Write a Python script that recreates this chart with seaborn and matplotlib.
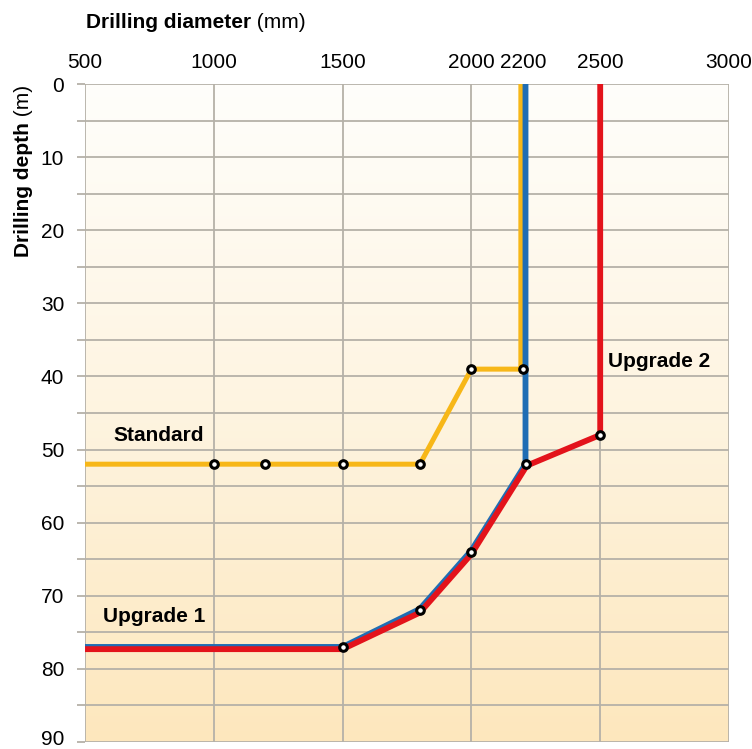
import matplotlib
matplotlib.use("Agg")
import matplotlib.pyplot as plt
import matplotlib.transforms as mtransforms
import seaborn as sns
import pandas as pd
import numpy as np
from matplotlib.colors import LinearSegmentedColormap

# Datos (diametro en mm, profundidad en m)
standard_x = [500, 1000, 1200, 1500, 1800, 2000, 2192, 2192]
standard_y = [52, 52, 52, 52, 52, 39, 39, 0]
upgrade1_x = [500, 1500, 1800, 2000, 2210, 2210]
upgrade1_y = [77, 77, 71.8, 63.8, 52, 0]
upgrade2_x = [500, 1500, 1800, 2000, 2215, 2500, 2500]
upgrade2_y = [77.3, 77.3, 72.3, 64.3, 52.2, 48, 0]

# puntos marcados
marker_x = [1000, 1200, 1500, 1800, 2000, 2200, 1500, 1800, 2000, 2212, 2500]
marker_y = [52, 52, 52, 52, 39, 39, 77, 72, 64, 52, 48]

x_ticks = [500, 1000, 1500, 2000, 2500, 3000]
x_extra_tick = [2200]
y_ticks = [0, 10, 20, 30, 40, 50, 60, 70, 80, 90]

sns.set_style("white")
plt.rcParams['font.family'] = ['Liberation Sans', 'DejaVu Sans']
plt.rcParams['text.color'] = 'black'

fig = plt.figure(figsize=(7.52, 7.49), dpi=100)
ax = fig.add_axes([85 / 752, 1 - 742 / 749, (729 - 85) / 752, (742 - 84) / 749])

# fondo degradado
cmap = LinearSegmentedColormap.from_list('crema', ['#fffefb', '#fef4e0', '#fde7bd'])
grad = np.linspace(0, 1, 256).reshape(-1, 1)
ax.imshow(grad, extent=(500, 3000, 90, 0), origin='upper', aspect='auto', cmap=cmap, zorder=0)

df_std = pd.DataFrame({'x': standard_x, 'y': standard_y})
df_up1 = pd.DataFrame({'x': upgrade1_x, 'y': upgrade1_y})
df_up2 = pd.DataFrame({'x': upgrade2_x, 'y': upgrade2_y})
df_mk = pd.DataFrame({'x': marker_x, 'y': marker_y})

sns.lineplot(data=df_std, x='x', y='y', sort=False, estimator=None, color='#f7b718', linewidth=3.6, ax=ax, zorder=3)
sns.lineplot(data=df_up1, x='x', y='y', sort=False, estimator=None, color='#1f6db4', linewidth=4.2, ax=ax, zorder=4)
sns.lineplot(data=df_up2, x='x', y='y', sort=False, estimator=None, color='#e3131b', linewidth=4.2, ax=ax, zorder=5)
sns.scatterplot(data=df_mk, x='x', y='y', s=30, color='white', edgecolor='black', linewidth=2.2, ax=ax, zorder=6)

ax.set_xlim(500, 3000)
ax.set_ylim(90, 0)
ax.set_xlabel('')
ax.set_ylabel('')

ax.xaxis.tick_top()
ax.set_xticks(x_ticks)
ax.set_xticks(x_extra_tick, minor=True)
ax.set_xticklabels([str(v) for v in x_ticks])
ax.set_xticklabels([str(v) for v in x_extra_tick], minor=True)
ax.set_yticks(y_ticks)
ax.set_yticks(np.arange(5, 90, 10), minor=True)

ax.tick_params(axis='x', which='both', length=0, pad=9, labelsize=15, labelcolor='black')
ax.tick_params(axis='y', which='both', length=6, width=1.3, color='#b5b1a8', pad=9,
               labelsize=15, labelcolor='black', left=True)
# la ultima etiqueta (90) un poco mas arriba para que quepa
lab90 = ax.get_yticklabels()[-1]
lab90.set_transform(lab90.get_transform() + mtransforms.ScaledTranslation(0, 3 / 72, fig.dpi_scale_trans))

ax.grid(axis='x', which='major', color='#b5b1a8', linewidth=1.3)
ax.grid(axis='y', which='both', color='#b5b1a8', linewidth=1.3)
for s in ax.spines.values():
    s.set_visible(False)
for gl in ax.get_xgridlines() + ax.get_ygridlines():
    gl.set_zorder(1)

# etiquetas de series
ax.text(612, 48.1, 'Standard', fontsize=15, fontweight='bold', va='center')
ax.text(570, 72.9, 'Upgrade 1', fontsize=15, fontweight='bold', va='center')
ax.text(2532, 37.9, 'Upgrade 2', fontsize=15, fontweight='bold', va='center')

# titulos de ejes
t1 = fig.text(86 / 752, 1 - 22 / 749, 'Drilling diameter', fontsize=15, fontweight='bold',
              va='center', ha='left')
fig.canvas.draw()
ax.annotate(' (mm)', xy=(1, 0.5), xycoords=t1, va='center', ha='left', fontsize=15,
            annotation_clip=False)

t2 = fig.text(24 / 752, 1 - 257 / 749, 'Drilling depth', fontsize=15, fontweight='bold',
              rotation=90, va='bottom', ha='center')
ax.annotate(' (m)', xy=(0.5, 1), xycoords=t2, va='bottom', ha='center', fontsize=15,
            rotation=90, annotation_clip=False)

fig.savefig('out.png', dpi=100)
